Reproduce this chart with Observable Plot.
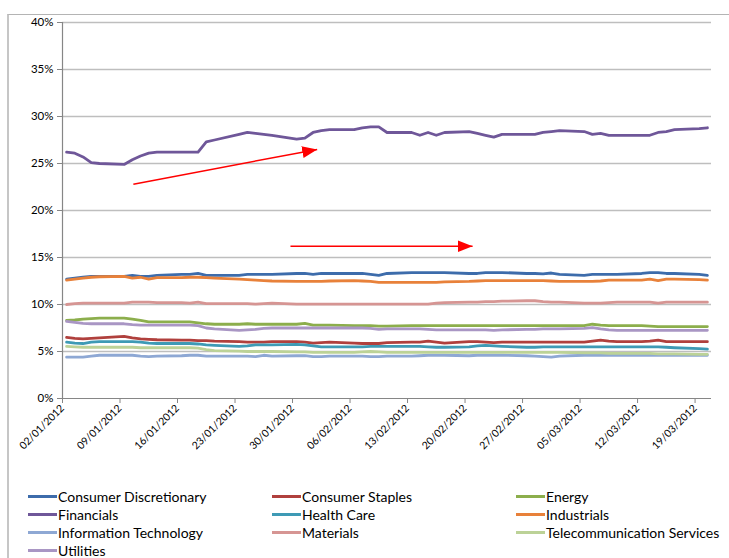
<!DOCTYPE html>
<html>
<head>
<meta charset="utf-8">
<script src="https://cdn.jsdelivr.net/npm/d3@7"></script>
<script src="https://cdn.jsdelivr.net/npm/@observablehq/plot@0.6"></script>
<style>
  html, body { margin: 0; padding: 0; background: #fff; }
  body { width: 729px; height: 558px; position: relative; overflow: hidden; font-family: Lato, "Liberation Sans", sans-serif; }
  #frame { position: absolute; left: 7px; top: 14px; width: 740px; height: 600px; border-left: 2px solid #C6C6C6; border-top: 1.5px solid #B4B4B4; box-sizing: border-box; }
  #chart { position: absolute; left: 0; top: 0; }
  #legend { position: absolute; left: 0; top: 487px; width: 729px; font-size: 14px; color: #000; }
  .item { position: absolute; height: 18px; display: flex; align-items: center; white-space: nowrap; }
  .swatch { width: 29px; height: 3px; margin-right: 1px; }
</style>
</head>
<body>
<div id="frame"></div>
<div id="chart"></div>
<div id="legend"></div>
<script>
// ---- Data (percent weights, business days) ----
const dates = [
  "2012-01-02","2012-01-03","2012-01-04","2012-01-05","2012-01-06",
  "2012-01-09","2012-01-10","2012-01-11","2012-01-12","2012-01-13",
  "2012-01-16","2012-01-17","2012-01-18","2012-01-19","2012-01-20",
  "2012-01-23","2012-01-24","2012-01-25","2012-01-26","2012-01-27",
  "2012-01-30","2012-01-31","2012-02-01","2012-02-02","2012-02-03",
  "2012-02-06","2012-02-07","2012-02-08","2012-02-09","2012-02-10",
  "2012-02-13","2012-02-14","2012-02-15","2012-02-16","2012-02-17",
  "2012-02-20","2012-02-21","2012-02-22","2012-02-23","2012-02-24",
  "2012-02-27","2012-02-28","2012-02-29","2012-03-01","2012-03-02",
  "2012-03-05","2012-03-06","2012-03-07","2012-03-08","2012-03-09",
  "2012-03-12","2012-03-13","2012-03-14","2012-03-15","2012-03-16",
  "2012-03-19","2012-03-20"
];

const sectors = [
  "Consumer Discretionary","Consumer Staples","Energy",
  "Financials","Health Care","Industrials",
  "Information Technology","Materials","Telecommunication Services",
  "Utilities"
];
const colors = ["#3D6CAB","#B0403D","#8CAE4C","#6F5799","#3E9AB5","#E8813A","#8EA8D4","#D69593","#BCD297","#A996C4"];

const consumerDiscretionary = [12.7,12.8,12.9,13.0,13.0, 13.0,13.1,13.0,13.0,13.1, 13.2,13.2,13.3,13.1,13.1, 13.1,13.2,13.2,13.2,13.2, 13.3,13.3,13.2,13.3,13.3, 13.3,13.3,13.2,13.1,13.3, 13.4,13.4,13.4,13.4,13.4, 13.3,13.3,13.4,13.4,13.4, 13.3,13.3,13.25,13.35,13.2, 13.1,13.2,13.2,13.2,13.2, 13.3,13.4,13.4,13.3,13.3, 13.2,13.1];
const consumerStaples = [6.5,6.4,6.35,6.4,6.45, 6.6,6.45,6.35,6.3,6.25, 6.2,6.2,6.15,6.15,6.1, 6.05,6.0,6.0,6.0,6.05, 6.05,6.0,5.9,5.95,6.0, 5.9,5.85,5.85,5.85,5.95, 6.0,6.0,6.1,6.0,5.9, 6.05,6.05,6.0,5.95,6.0, 6.0,6.0,6.0,6.0,6.0, 6.0,6.1,6.2,6.1,6.05, 6.05,6.1,6.2,6.05,6.05, 6.05,6.05];
const energy = [8.3,8.35,8.45,8.5,8.55, 8.55,8.45,8.3,8.15,8.15, 8.15,8.15,8.05,7.95,7.9, 7.9,7.95,7.9,7.9,7.9, 7.9,8.0,7.8,7.8,7.8, 7.75,7.75,7.75,7.7,7.7, 7.75,7.75,7.75,7.75,7.75, 7.75,7.75,7.75,7.75,7.75, 7.75,7.75,7.75,7.75,7.75, 7.75,7.9,7.8,7.75,7.75, 7.75,7.7,7.65,7.65,7.65, 7.65,7.65];
const financials = [26.2,26.1,25.7,25.1,25.0, 24.9,25.4,25.8,26.1,26.2, 26.2,26.2,26.2,27.3,27.5, 28.1,28.3,28.2,28.1,28.0, 27.6,27.7,28.3,28.5,28.6, 28.6,28.8,28.9,28.9,28.3, 28.3,28.0,28.3,28.0,28.3, 28.4,28.2,28.0,27.8,28.1, 28.1,28.1,28.3,28.4,28.5, 28.4,28.1,28.2,28.0,28.0, 28.0,28.0,28.3,28.4,28.6, 28.7,28.8];
const healthCare = [6.0,5.9,5.85,6.0,6.05, 6.05,6.05,6.0,5.9,5.85, 5.85,5.85,5.8,5.7,5.65, 5.55,5.6,5.7,5.7,5.7, 5.75,5.7,5.6,5.5,5.5, 5.5,5.5,5.55,5.55,5.55, 5.55,5.55,5.5,5.45,5.45, 5.5,5.6,5.65,5.6,5.55, 5.45,5.45,5.5,5.5,5.5, 5.5,5.5,5.5,5.5,5.5, 5.5,5.5,5.5,5.45,5.4, 5.3,5.25];
const industrials = [12.6,12.7,12.8,12.9,12.95, 13.0,12.8,12.9,12.7,12.85, 12.85,12.9,12.9,12.85,12.8, 12.7,12.65,12.6,12.55,12.5, 12.45,12.45,12.45,12.45,12.5, 12.55,12.5,12.45,12.35,12.35, 12.35,12.35,12.35,12.35,12.4, 12.45,12.5,12.55,12.55,12.55, 12.55,12.55,12.55,12.5,12.45, 12.45,12.45,12.5,12.6,12.6, 12.6,12.7,12.55,12.7,12.7, 12.65,12.6];
const informationTechnology = [4.4,4.4,4.4,4.5,4.6, 4.6,4.6,4.5,4.45,4.5, 4.55,4.6,4.6,4.5,4.5, 4.5,4.5,4.45,4.6,4.5, 4.55,4.55,4.45,4.45,4.5, 4.5,4.5,4.45,4.45,4.5, 4.5,4.55,4.6,4.6,4.6, 4.55,4.6,4.6,4.6,4.6, 4.55,4.5,4.45,4.4,4.5, 4.6,4.6,4.6,4.6,4.6, 4.6,4.6,4.6,4.6,4.6, 4.6,4.6];
const materials = [10.0,10.1,10.15,10.15,10.15, 10.15,10.25,10.25,10.25,10.2, 10.2,10.15,10.25,10.1,10.1, 10.1,10.1,10.05,10.1,10.15, 10.05,10.05,10.05,10.05,10.05, 10.05,10.05,10.05,10.05,10.05, 10.05,10.05,10.05,10.15,10.2, 10.25,10.25,10.3,10.3,10.35, 10.4,10.4,10.3,10.25,10.25, 10.15,10.15,10.15,10.2,10.25, 10.25,10.25,10.15,10.25,10.25, 10.25,10.25];
const telecommunicationServices = [5.55,5.5,5.45,5.45,5.45, 5.45,5.45,5.4,5.4,5.4, 5.4,5.4,5.35,5.2,5.1, 5.05,5.0,5.0,5.0,5.0, 4.95,4.95,4.9,4.9,4.9, 4.9,4.95,5.0,4.95,4.9, 4.9,4.9,4.9,4.9,4.9, 4.9,4.9,4.9,4.9,4.9, 4.9,4.9,4.9,4.9,4.9, 4.85,4.85,4.85,4.8,4.8, 4.8,4.8,4.75,4.75,4.75, 4.7,4.7];
const utilities = [8.2,8.1,8.0,7.95,7.95, 7.95,7.85,7.8,7.8,7.8, 7.8,7.8,7.75,7.5,7.4, 7.25,7.3,7.35,7.45,7.5, 7.5,7.5,7.5,7.5,7.5, 7.5,7.5,7.45,7.35,7.4, 7.4,7.4,7.35,7.3,7.3, 7.3,7.3,7.3,7.25,7.3, 7.35,7.35,7.4,7.4,7.4, 7.45,7.55,7.4,7.3,7.25, 7.25,7.25,7.25,7.25,7.25, 7.25,7.25];

const seriesValues = [consumerDiscretionary, consumerStaples, energy, financials, healthCare, industrials, informationTechnology, materials, telecommunicationServices, utilities];

const yTicks = [0, 0.05, 0.10, 0.15, 0.20, 0.25, 0.30, 0.35, 0.40];
const xTickLabels = ["02/01/2012","09/01/2012","16/01/2012","23/01/2012","30/01/2012","06/02/2012","13/02/2012","20/02/2012","27/02/2012","05/03/2012","12/03/2012","19/03/2012"];
const xStart = "2012-01-02", xEnd = "2012-03-21";

// Annotation arrows (data units)
const arrowX1 = ["2012-01-10T15:00Z", "2012-01-29T18:00Z"];
const arrowY1 = [0.228, 0.162];
const arrowX2 = ["2012-02-02T00:00Z", "2012-02-20T22:00Z"];
const arrowY2 = [0.265, 0.162];

// ---- Build tables ----
const parseTick = d3.utcParse("%d/%m/%Y");
const xTicks = xTickLabels.map(parseTick);
const data = [];
sectors.forEach((s, k) => {
  seriesValues[k].forEach((v, i) => {
    data.push({sector: s, date: new Date(dates[i] + "T12:00:00Z"), value: v / 100});
  });
});
const arrows = arrowX1.map((d, i) => ({x1: new Date(d), y1: arrowY1[i], x2: new Date(arrowX2[i]), y2: arrowY2[i]}));

const chart = Plot.plot({
  width: 729,
  height: 470,
  marginLeft: 62,
  marginRight: 18,
  marginTop: 22,
  marginBottom: 72,
  style: {fontFamily: "Lato, 'Liberation Sans', sans-serif", fontSize: "11px", color: "#000", background: "transparent", overflow: "visible"},
  x: {type: "utc", domain: [new Date(xStart + "T00:00:00Z"), new Date(xEnd + "T00:00:00Z")]},
  y: {domain: [0, 0.40]},
  color: {domain: sectors, range: colors},
  marks: [
    Plot.gridY(yTicks.filter(d => d > 0), {stroke: "#BEBEBE", strokeOpacity: 1, strokeWidth: 1.3}),
    Plot.axisY(yTicks, {tickFormat: d3.format(".0%"), tickSize: 5, tickPadding: 4, stroke: "#868686", fontSize: 11.5, label: null}),
    Plot.axisX(xTicks, {tickFormat: d3.utcFormat("%d/%m/%Y"), tickRotate: -45, tickSize: 5, tickPadding: 3, stroke: "#868686", fontSize: 10.5, label: null}),
    Plot.ruleX([new Date(xStart + "T00:00:00Z")], {stroke: "#868686", strokeWidth: 1.2}),
    Plot.ruleY([0], {stroke: "#868686", strokeWidth: 1.2}),
    Plot.lineY(data, {x: "date", y: "value", z: "sector", stroke: "sector", strokeWidth: 2.8, strokeLinejoin: "round", strokeLinecap: "round"}),
    Plot.link(arrows, {x1: "x1", y1: "y1", x2: "x2", y2: "y2", stroke: "#FF0000", strokeWidth: 1.5, markerEnd: "arrow"})
  ]
});

// Make the annotation arrow heads solid triangles, like the reference
chart.querySelectorAll("marker").forEach(m => {
  m.setAttribute("markerUnits", "userSpaceOnUse");
  m.setAttribute("viewBox", "-15 -8 16 16");
  m.setAttribute("markerWidth", "16");
  m.setAttribute("markerHeight", "16");
  const p = m.querySelector("path");
  if (p) {
    p.setAttribute("d", "M-15,-6L0,0L-15,6Z");
    p.setAttribute("fill", "#FF0000");
    p.setAttribute("stroke", "none");
  }
});

document.getElementById("chart").appendChild(chart);

// ---- Legend ----
const legend = document.getElementById("legend");
const colX = [28, 272, 516];
sectors.forEach((s, i) => {
  const item = document.createElement("div");
  item.className = "item";
  item.style.left = colX[i % 3] + "px";
  item.style.top = (Math.floor(i / 3) * 18) + "px";
  const sw = document.createElement("span");
  sw.className = "swatch";
  sw.style.background = colors[i];
  const t = document.createElement("span");
  t.textContent = s;
  item.appendChild(sw);
  item.appendChild(t);
  legend.appendChild(item);
});
</script>
</body>
</html>
